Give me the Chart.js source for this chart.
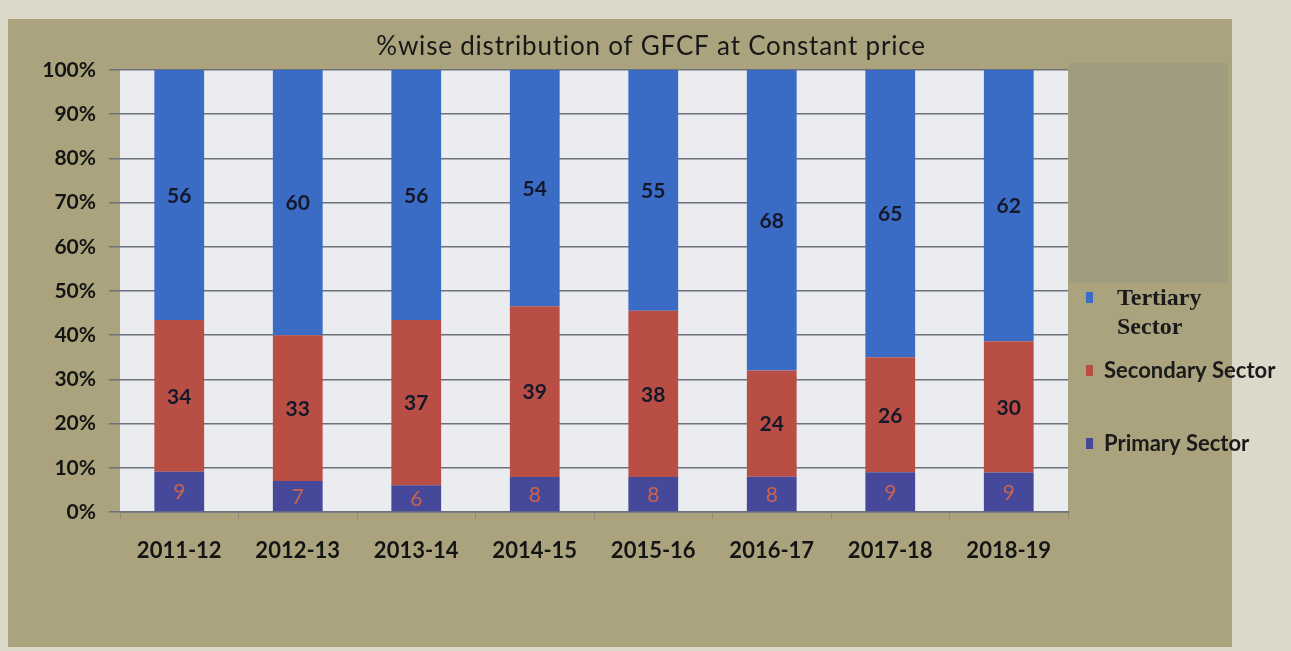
<!DOCTYPE html>
<html>
<head>
<meta charset="utf-8">
<script src="https://cdn.jsdelivr.net/npm/chart.js@4"></script>
<style>
  html, body { margin: 0; padding: 0; background: #dcd9ca; }
  #wrap { position: relative; width: 1291px; height: 651px; }
  canvas { display: block; }
</style>
</head>
<body>
<div id="wrap"><canvas id="c" width="1291" height="651"></canvas></div>
<script>
// ---- data ----
const categories = ["2011-12", "2012-13", "2013-14", "2014-15", "2015-16", "2016-17", "2017-18", "2018-19"];
const primary   = [9, 7, 6, 8, 8, 8, 9, 9];
const secondary = [34, 33, 37, 39, 38, 24, 26, 30];
const tertiary  = [56, 60, 56, 54, 55, 68, 65, 62];
const yTicks = [0, 10, 20, 30, 40, 50, 60, 70, 80, 90, 100];
const titleText = "%wise distribution of GFCF at Constant price";

// 100% stacked shares
const totals = categories.map((_, i) => primary[i] + secondary[i] + tertiary[i]);
const share = arr => arr.map((v, i) => v / totals[i] * 100);

const colors = { tertiary: "#3a6bc5", secondary: "#b94f44", primary: "#46499a" };

const bgPlugin = {
  id: "bg",
  beforeDraw(chart) {
    const { ctx, chartArea: a } = chart;
    ctx.save();
    ctx.fillStyle = "#dcd9ca";
    ctx.fillRect(0, 0, chart.width, chart.height);
    ctx.fillStyle = "#aaa37e";
    ctx.fillRect(8, 19, 1224, 628);
    ctx.fillStyle = "#9f9c7f";
    ctx.fillRect(1069, 63, 159, 220);
    ctx.fillStyle = "#ebecef";
    ctx.fillRect(a.left, a.top, a.right - a.left, a.bottom - a.top);
    ctx.restore();
  }
};

const labelPlugin = {
  id: "labels",
  afterDatasetsDraw(chart) {
    const { ctx } = chart;
    ctx.save();
    ctx.textAlign = "center";
    ctx.textBaseline = "middle";
    chart.data.datasets.forEach((ds, di) => {
      const meta = chart.getDatasetMeta(di);
      meta.data.forEach((el, i) => {
        const cy = (el.y + el.base) / 2;
        if (ds.label === "Primary Sector") {
          ctx.font = "21px Lato";
          ctx.fillStyle = "#c9634f";
        } else {
          ctx.font = "bold 21px Lato";
          ctx.fillStyle = "#15182a";
        }
        ctx.fillText(String(ds.raw[i]), el.x, cy + 1);
      });
    });
    ctx.restore();
  },
  afterDraw(chart) {
    const { ctx } = chart;
    ctx.save();
    // title
    ctx.fillStyle = "#181818";
    ctx.font = "26px Lato";
    ctx.letterSpacing = "0.8px";
    ctx.textAlign = "center";
    ctx.textBaseline = "middle";
    ctx.fillText(titleText, 651, 47);
    ctx.letterSpacing = "0px";
    // legend
    ctx.textAlign = "left";
    const ds = chart.data.datasets;
    const t = ds.find(d => d.label === "Tertiary Sector");
    const s = ds.find(d => d.label === "Secondary Sector");
    const p = ds.find(d => d.label === "Primary Sector");
    ctx.fillStyle = t.backgroundColor; ctx.fillRect(1086, 292, 7, 11);
    ctx.fillStyle = "#1a1a1a";
    ctx.font = "bold 24px 'Liberation Serif'";
    ctx.fillText("Tertiary", 1117, 299);
    ctx.fillText("Sector", 1117, 328);
    ctx.fillStyle = s.backgroundColor; ctx.fillRect(1086, 365, 7, 11);
    ctx.fillStyle = "#1a1a1a";
    ctx.font = "bold 22px Lato";
    ctx.fillText("Secondary Sector", 1104, 371);
    ctx.fillStyle = p.backgroundColor; ctx.fillRect(1086, 438, 7, 11);
    ctx.fillStyle = "#1a1a1a";
    ctx.fillText("Primary Sector", 1104, 444);
    ctx.restore();
  }
};

new Chart(document.getElementById("c"), {
  type: "bar",
  data: {
    labels: categories,
    datasets: [
      { label: "Primary Sector", data: share(primary), raw: primary, backgroundColor: colors.primary },
      { label: "Secondary Sector", data: share(secondary), raw: secondary, backgroundColor: colors.secondary },
      { label: "Tertiary Sector", data: share(tertiary), raw: tertiary, backgroundColor: colors.tertiary }
    ]
  },
  options: {
    responsive: false,
    animation: false,
    layout: { padding: { top: 70, left: 0, right: 223, bottom: 0 } },
    datasets: { bar: { categoryPercentage: 1.0, barPercentage: 0.42 } },
    plugins: { legend: { display: false }, title: { display: false }, tooltip: { enabled: false } },
    scales: {
      x: {
        stacked: true,
        afterFit(s) { s.height = 139; },
        grid: { drawOnChartArea: false, drawTicks: true, tickLength: 7, color: "#8d8b78", offset: true },
        border: { display: true, color: "#6c717c", width: 1.5 },
        ticks: { padding: 19, color: "#141414", font: { family: "Lato", size: 22, weight: "bold" } }
      },
      y: {
        stacked: true,
        min: 0, max: 100,
        afterFit(s) { s.width = 120; },
        afterBuildTicks(s) { s.ticks = yTicks.map(v => ({ value: v })); },
        grid: { color: "#6c717c", lineWidth: 1.5, tickLength: 11 },
        border: { display: false },
        ticks: { padding: 13, color: "#141414", font: { family: "Lato", size: 21, weight: "bold" },
                 callback: v => v + "%" }
      }
    }
  },
  plugins: [bgPlugin, labelPlugin]
});
</script>
</body>
</html>
